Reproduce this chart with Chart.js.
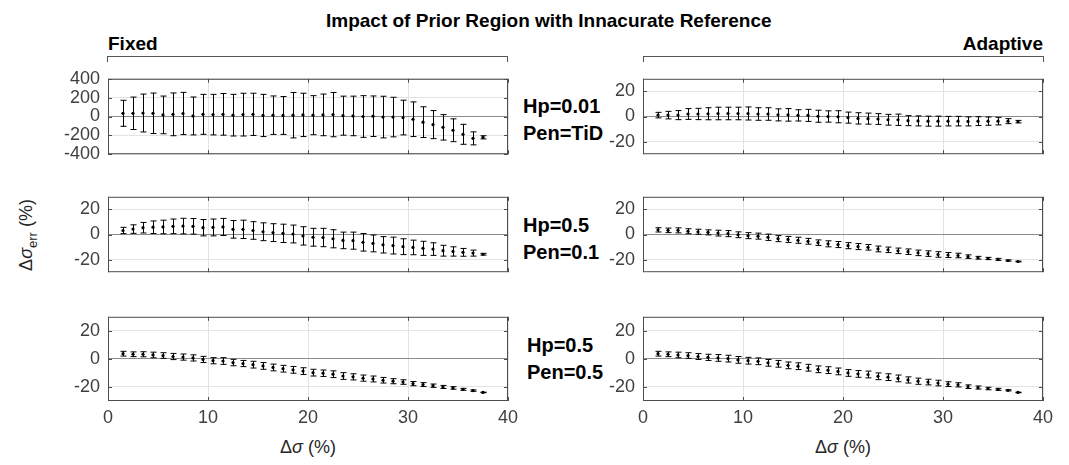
<!DOCTYPE html>
<html>
<head>
<meta charset="utf-8">
<script src="https://cdn.jsdelivr.net/npm/chart.js@4/dist/chart.umd.min.js"></script>
<style>
  body { margin: 0; background: #fff; }
  #fig { position: relative; width: 1069px; height: 465px; background: #fff; font-family: 'Liberation Sans', Arial, sans-serif; overflow: hidden; }
  #fig canvas { position: absolute; }
  .txt { position: absolute; white-space: nowrap; line-height: 1; }
  .bold { font-weight: bold; color: #000; }
  .bracket { position: absolute; height: 5px; border: 1px solid #555; border-bottom: none; }
</style>
</head>
<body>
<div id="fig">
  <div class="txt bold" style="left:326px; top:11px; font-size:19px;">Impact of Prior Region with Innacurate Reference</div>
  <div class="txt bold" style="left:108px; top:34px; font-size:19px;">Fixed</div>
  <div class="txt bold" style="right:26px; top:34px; font-size:19px;">Adaptive</div>
  <div class="bracket" style="left:107px; top:56px; width:399px;"></div>
  <div class="bracket" style="left:643px; top:56px; width:399px;"></div>
  <div id="rowLabels"></div>
  <div class="txt" style="left:28px; top:235px; font-size:18px; color:#262626; transform:translate(-50%,-50%) rotate(-90deg);">&Delta;<i>&sigma;</i><sub style="font-size:13px;">err</sub> (%)</div>
  <div class="txt" style="left:308px; top:438px; font-size:18px; color:#262626; transform:translateX(-50%);">&Delta;<i>&sigma;</i> (%)</div>
  <div class="txt" style="left:843px; top:438px; font-size:18px; color:#262626; transform:translateX(-50%);">&Delta;<i>&sigma;</i> (%)</div>
</div>
<script>
// Δσ (%) positions of the error bars
const deltaSigma = [1.5, 2.5, 3.5, 4.5, 5.5, 6.5, 7.5, 8.5, 9.5, 10.5, 11.5, 12.5, 13.5, 14.5, 15.5, 16.5, 17.5, 18.5, 19.5,
  20.5, 21.5, 22.5, 23.5, 24.5, 25.5, 26.5, 27.5, 28.5, 29.5, 30.5, 31.5, 32.5, 33.5, 34.5, 35.5, 36.5, 37.5];

// Hp=0.01, Pen=TiD
const fixedTidMean = [34, 34, 37, 34, 17, 23, 32, 6, 23, 20, 23, 14, 20, 23, 11, 14, 11, 14, 17,
  14, 17, 20, 9, 6, 0, 3, -6, -6, -11, -29, -60, -86, -115, -146, -189, -232, -221];
const fixedTidErr = [138, 172, 201, 215, 200, 227, 224, 201, 212, 215, 221, 221, 227, 224, 224, 204, 201, 241, 230,
  207, 221, 235, 207, 210, 221, 215, 221, 210, 184, 184, 163, 149, 135, 121, 106, 69, 17];
const adaptTidMean = [1.1, 1.1, 1.1, 2, 2, 2.2, 2.4, 2.4, 2.4, 2.4, 2, 2, 1.3, 1.3, 0.9, 0.9, 0.2, 0, -0.2,
  -0.9, -1.5, -1.7, -2, -2.6, -2.6, -3.3, -3.5, -3.7, -3.7, -3.7, -3.7, -3.9, -3.7, -3.7, -3.7, -3.7, -4.1];
const adaptTidErr = [2.2, 3, 3.6, 4.3, 4.5, 4.8, 5, 5, 5, 5.2, 5, 5, 4.8, 5, 4.5, 4.8, 4.8, 4.5, 4.8,
  4.4, 4.5, 4.4, 4.3, 4.3, 4.5, 4, 4, 4, 4, 3.8, 3.8, 3.6, 3.5, 3.3, 3, 2, 1];

// Hp=0.5, Pen=0.1
const fixed01Mean = [3.2, 4.3, 5.4, 5.8, 6, 6.5, 6.7, 6.5, 5.4, 5.6, 6, 4.1, 4.1, 3.2, 2.2, 1.5, 0.9, 0.4, -1.1,
  -2.2, -2.4, -3.4, -4.7, -4.9, -6.2, -7.1, -8.2, -8.8, -9.7, -10.3, -11, -11.6, -12.9, -13.5, -14.2, -14.8, -15.7];
const fixed01Err = [2.5, 3.4, 4.2, 5, 5.4, 5.8, 6.2, 6.2, 6.5, 6.7, 6.8, 7, 7.3, 7, 7.1, 7.1, 7.3, 7.1, 7.3,
  7.1, 7.3, 7.2, 6.6, 6.8, 7, 6.7, 6.5, 6.7, 6.3, 5.8, 5.6, 5, 4.3, 3.7, 3.1, 2.4, 0.7];
const adapt01Mean = [3.7, 3.3, 3.3, 2.6, 2.2, 1.7, 1.1, 0.7, -0.2, -0.9, -1.3, -2.2, -3.3, -3.9, -4.6, -5.4, -6.5, -7.4, -8,
  -8.9, -9.6, -10.2, -11.5, -12.2, -13, -13.7, -14.6, -15.2, -15.9, -16.3, -16.7, -17.6, -18.5, -19.1, -19.8, -20.7, -21.5];
const adapt01Err = [1.7, 1.8, 2, 2, 2, 2, 2.3, 2.4, 2.3, 2.4, 2.4, 2.5, 2.4, 2.4, 2.4, 2.3, 2.2, 2.4, 2.4,
  2.4, 2.4, 2.2, 2.3, 2.2, 2.2, 2.2, 2.2, 2.2, 2.2, 2, 1.8, 1.4, 1.1, 0.9, 0.8, 0.5, 0.3];

// Hp=0.5, Pen=0.5
const fixed05Mean = [3.7, 3.3, 3.3, 2.8, 2.4, 1.7, 1.3, 0.7, -0.4, -1.3, -1.5, -2.6, -3.3, -4.1, -5, -6.1, -7, -7.8, -8.7,
  -9.8, -10.2, -10.9, -12.2, -12.8, -13.7, -14.3, -15.2, -15.9, -16.5, -17.6, -18.3, -19.1, -20, -20.7, -21.7, -22.6, -23.9];
const fixed05Err = [1.7, 1.7, 1.8, 2, 2, 2.2, 2.2, 2.2, 2.2, 2.2, 2.4, 2.3, 2.2, 2.4, 2.4, 2.4, 2.4, 2.4, 2.4,
  2.4, 2.3, 2.4, 2.4, 2.2, 2.2, 2.1, 2, 1.8, 1.6, 1.5, 1.4, 1.2, 1.1, 0.9, 0.7, 0.5, 0.2];
const adapt05Mean = [3.7, 3.3, 2.8, 2.4, 1.7, 1.1, 0.7, 0.2, -0.7, -1.3, -1.7, -2.8, -3.5, -4.6, -5.2, -6.3, -7.4, -8, -8.9,
  -10, -10.7, -11.1, -12.4, -13, -13.9, -15, -15.9, -16.5, -17.2, -18, -18.5, -19.8, -20.4, -21.1, -21.7, -22.4, -23.9];
const adapt05Err = [1.7, 1.7, 2, 2, 2.1, 2.2, 2.4, 2.4, 2.4, 2.4, 2.4, 2.4, 2.4, 2.4, 2.4, 2.4, 2.4, 2.4, 2.4,
  2.4, 2.4, 2.4, 2.4, 2.4, 2.4, 2.2, 2.2, 2, 2, 1.7, 1.5, 1.3, 1.1, 0.9, 0.7, 0.4, 0.2];

// axes ticks
const xTicks = [0, 10, 20, 30, 40];
const yTicksWide = [-400, -200, 0, 200, 400];
const yTicksNarrow = [-20, 0, 20];
const rowLabels = [['Hp=0.01', 'Pen=TiD'], ['Hp=0.5', 'Pen=0.1'], ['Hp=0.5', 'Pen=0.5']];

const colLeft = [108, 643];
const rowTop = [70, 188, 308];
const plotW = 400;
const plotH = 93;
const padL = 60;

// box + inner ticks, then vertical error bars with caps from dataset.errors
const errorBars = {
  id: 'errorBars',
  beforeDatasetsDraw(chart) {
    const { ctx, chartArea: a, scales } = chart;
    ctx.save();
    ctx.strokeStyle = '#4d4d4d';
    ctx.lineWidth = 1;
    ctx.strokeRect(a.left + 0.5, a.top + 0.5, a.right - a.left - 1, a.bottom - a.top - 1);
    ctx.beginPath();
    scales.y.ticks.forEach((t) => {
      const py = Math.round(scales.y.getPixelForValue(t.value)) + 0.5;
      ctx.moveTo(a.left, py); ctx.lineTo(a.left + 4, py);
      ctx.moveTo(a.right, py); ctx.lineTo(a.right - 4, py);
    });
    scales.x.ticks.forEach((t) => {
      const px = Math.round(scales.x.getPixelForValue(t.value)) + 0.5;
      ctx.moveTo(px, a.bottom); ctx.lineTo(px, a.bottom - 4);
      ctx.moveTo(px, a.top); ctx.lineTo(px, a.top + 4);
    });
    ctx.stroke();
    ctx.restore();
  },
  afterDatasetsDraw(chart) {
    const { ctx, scales } = chart;
    ctx.save();
    ctx.strokeStyle = '#000';
    ctx.lineWidth = 1;
    chart.data.datasets.forEach((ds) => {
      ctx.beginPath();
      ds.data.forEach((p, i) => {
        const e = ds.errors[i];
        const px = Math.round(scales.x.getPixelForValue(p.x)) + 0.5;
        const top = scales.y.getPixelForValue(p.y + e);
        const bot = scales.y.getPixelForValue(p.y - e);
        ctx.moveTo(px, top); ctx.lineTo(px, bot);
        ctx.moveTo(px - 3, top); ctx.lineTo(px + 3, top);
        ctx.moveTo(px - 3, bot); ctx.lineTo(px + 3, bot);
      });
      ctx.stroke();
    });
    ctx.restore();
  },
};

const panels = [
  { row: 0, col: 0, mean: fixedTidMean, err: fixedTidErr, yMin: -400, yMax: 400, yTicks: yTicksWide },
  { row: 0, col: 1, mean: adaptTidMean, err: adaptTidErr, yMin: -30, yMax: 30, yTicks: yTicksNarrow },
  { row: 1, col: 0, mean: fixed01Mean, err: fixed01Err, yMin: -30, yMax: 30, yTicks: yTicksNarrow },
  { row: 1, col: 1, mean: adapt01Mean, err: adapt01Err, yMin: -30, yMax: 30, yTicks: yTicksNarrow },
  { row: 2, col: 0, mean: fixed05Mean, err: fixed05Err, yMin: -30, yMax: 30, yTicks: yTicksNarrow },
  { row: 2, col: 1, mean: adapt05Mean, err: adapt05Err, yMin: -30, yMax: 30, yTicks: yTicksNarrow },
];

const fig = document.getElementById('fig');
const tickFont = { family: "'Liberation Sans', Arial, sans-serif", size: 18 };

panels.forEach((p) => {
  const bottomRow = p.row === 2;
  const xAxisH = bottomRow ? 30 : 0;
  const canvas = document.createElement('canvas');
  canvas.width = padL + plotW + 20;
  canvas.height = 10 + plotH + (bottomRow ? xAxisH : 10);
  canvas.style.left = (colLeft[p.col] - padL) + 'px';
  canvas.style.top = (rowTop[p.row] - 10) + 'px';
  fig.appendChild(canvas);

  new Chart(canvas.getContext('2d'), {
    type: 'scatter',
    data: {
      datasets: [{
        data: deltaSigma.map((x, i) => ({ x, y: p.mean[i] })),
        errors: p.err,
        pointRadius: 1.6,
        pointBackgroundColor: '#000',
        pointBorderWidth: 0,
      }],
    },
    options: {
      responsive: false,
      animation: false,
      devicePixelRatio: 1,
      layout: { padding: { top: 10, right: 20, bottom: bottomRow ? 0 : 10, left: 0 } },
      plugins: { legend: { display: false }, tooltip: { enabled: false } },
      scales: {
        x: {
          type: 'linear',
          min: 0,
          max: 40,
          afterBuildTicks: (s) => { s.ticks = xTicks.map((v) => ({ value: v })); },
          afterFit: (s) => { s.height = xAxisH; },
          ticks: { display: bottomRow, font: tickFont, color: '#404040', padding: 6, maxRotation: 0, autoSkip: false },
          grid: { color: '#e3e3e3', drawTicks: false },
          border: { display: false },
        },
        y: {
          min: p.yMin,
          max: p.yMax,
          afterBuildTicks: (s) => { s.ticks = p.yTicks.map((v) => ({ value: v })); },
          afterFit: (s) => { s.width = padL; },
          ticks: { font: tickFont, color: '#404040', padding: 8, autoSkip: false },
          grid: {
            color: (c) => (c.tick && c.tick.value === 0 ? '#8c8c8c' : '#e3e3e3'),
            drawTicks: false,
          },
          border: { display: false },
        },
      },
    },
    plugins: [errorBars],
  });
});

// row annotations between the columns
const rowLabelTop = [96, 215, 335];
const rowLabelLeft = [523, 523, 527];
const holder = document.getElementById('rowLabels');
rowLabels.forEach((lines, r) => {
  lines.forEach((t, k) => {
    const d = document.createElement('div');
    d.className = 'txt bold';
    d.style.fontSize = '20px';
    d.style.left = rowLabelLeft[r] + 'px';
    d.style.top = (rowLabelTop[r] + k * 27) + 'px';
    d.textContent = t;
    holder.appendChild(d);
  });
});
</script>
</body>
</html>
